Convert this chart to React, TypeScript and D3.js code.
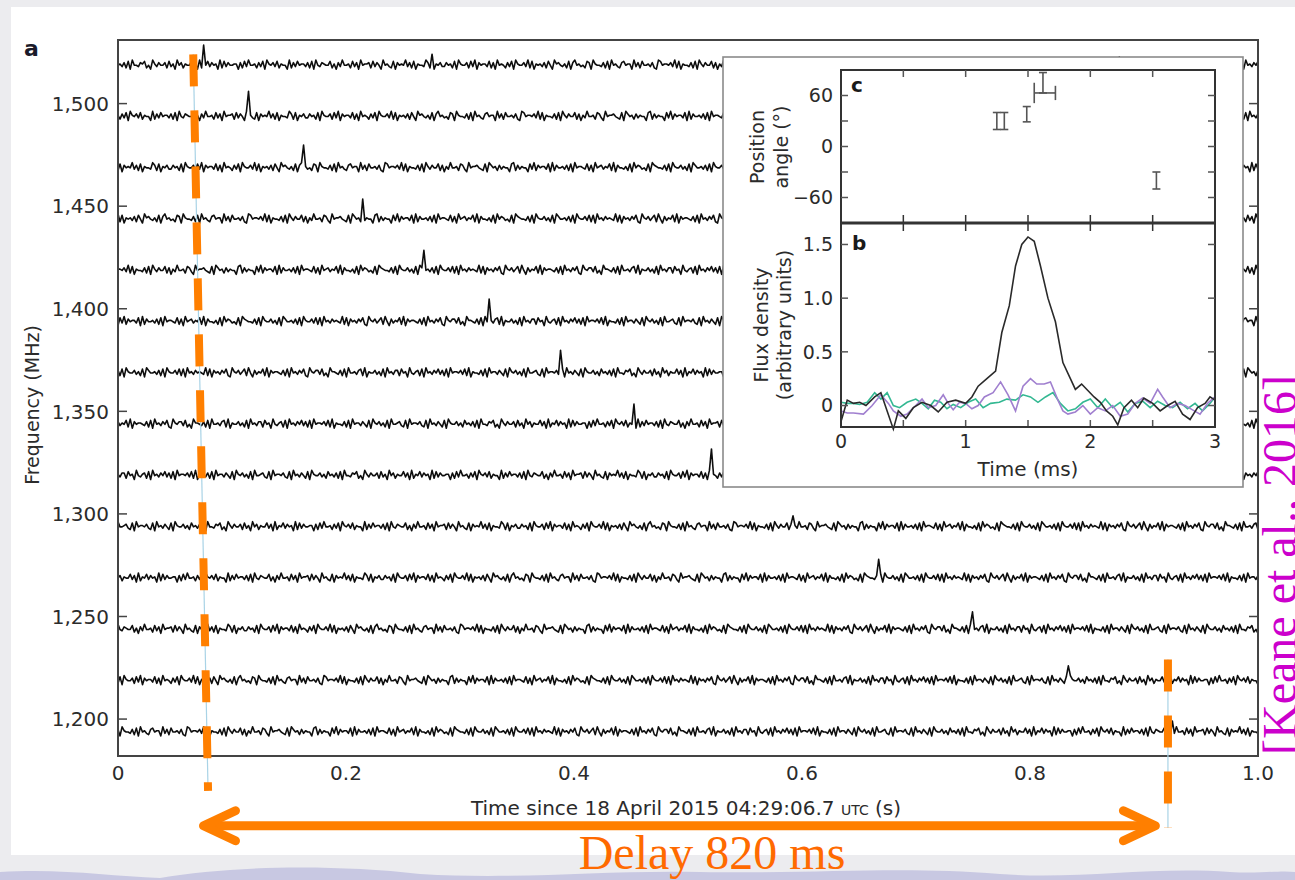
import React from 'react';
import * as d3 from 'd3';

const W = 1295;
const H = 880;

// Centre frequency of each sub-band trace (MHz), top to bottom
const channelFreqs = [1519, 1494, 1469, 1444, 1419, 1394, 1369, 1344, 1319, 1294, 1269, 1244, 1219, 1194];
// Burst arrival time in each sub-band (s)
const pulseTimes = [0.0746, 0.114, 0.162, 0.215, 0.269, 0.326, 0.389, 0.453, 0.521, 0.592, 0.668, 0.749, 0.834, 0.925];
// Burst amplitude in each sub-band (arbitrary units)
const pulseHeights = [15, 19, 17, 15, 15, 17, 17, 15, 20, 8, 14, 13, 11, 8];
// Isolated noise spikes: [channel index, time (s), amplitude]
const glitches: [number, number, number][] = [
  [0, 0.275, 8],
  [0, 0.878, 6],
];
const freqTicks = [1200, 1250, 1300, 1350, 1400, 1450, 1500];
const timeTicks = [0, 0.2, 0.4, 0.6, 0.8, 1.0];

// Recorded baseline noise levels (digits 1-8, centred on 4.5)
const NOISE =
  '45362718443657241853644627351846254473618254736451827364455162738445263718546372' +
  '54418263745536271843654472516384452736184556273641845327164548362715443862715463' +
  '36452718544627381645537261845426371854463827154536274185643527168453427618544362' +
  '71845326745518362744536218745546382715443627185364472615384452763184556432718645' +
  '26354417826354417382645537182644536271845543726184563547281644352718465342718654' +
  '43627185446352718644536271854463727184536454382716453647218546357284163547281645' +
  '54362718453647218546637241855436271844536728154463527184536627451843562718453647' +
  '36271845546372815443627184553642718546352718445632718455463271845364271854463527';

// Inset c: polarisation position angle [time (ms), PA (deg), PA error (deg)]
const paPoints: [number, number, number][] = [
  [1.25, 30, 10],
  [1.31, 30, 10],
  [1.49, 38, 9],
  [1.62, 75, 12],
  [2.53, -40, 10],
];
// Inset c: point with a time error bar [time, PA, time error, cap half-height (deg)]
const paTimeBars: [number, number, number, number][] = [[1.635, 63, 0.085, 12]];

// Inset b: pulse profiles [time (ms), flux]
const fluxTotal: [number, number][] = [
  [0.0, -0.15], [0.05, 0.05], [0.1, 0.02], [0.15, 0.03], [0.2, 0.0], [0.27, 0.08], [0.32, 0.12],
  [0.37, -0.05], [0.42, -0.22], [0.46, -0.05], [0.52, -0.12], [0.58, -0.02], [0.65, 0.03],
  [0.72, 0.0], [0.78, -0.06], [0.85, 0.03], [0.92, 0.05], [1.0, 0.02], [1.05, 0.08], [1.1, 0.18],
  [1.17, 0.25], [1.24, 0.32], [1.29, 0.68], [1.35, 0.93], [1.4, 1.3], [1.45, 1.5], [1.5, 1.57],
  [1.55, 1.53], [1.6, 1.3], [1.66, 1.0], [1.72, 0.78], [1.78, 0.4], [1.84, 0.25], [1.88, 0.15],
  [1.93, 0.2], [1.98, 0.14], [2.03, 0.08], [2.08, 0.03], [2.13, -0.05], [2.18, -0.1], [2.22, -0.18],
  [2.27, -0.02], [2.33, 0.05], [2.38, -0.02], [2.43, 0.07], [2.5, 0.02], [2.56, -0.05], [2.62, 0.0],
  [2.68, 0.04], [2.74, -0.08], [2.8, -0.13], [2.86, -0.02], [2.92, 0.02], [2.96, 0.08], [3.0, 0.05],
];
const fluxCircular: [number, number][] = [
  [0.0, -0.05], [0.05, -0.07], [0.1, -0.07], [0.18, -0.08], [0.25, 0.0], [0.32, 0.1], [0.38, 0.02],
  [0.42, -0.05], [0.48, -0.1], [0.53, -0.08], [0.6, 0.0], [0.65, 0.06], [0.7, -0.02], [0.76, 0.0],
  [0.82, 0.1], [0.86, 0.02], [0.9, -0.04], [0.95, 0.03], [1.0, 0.02], [1.05, -0.03], [1.1, 0.0],
  [1.15, 0.08], [1.22, 0.12], [1.28, 0.22], [1.34, 0.1], [1.4, -0.05], [1.46, 0.18], [1.52, 0.25],
  [1.57, 0.2], [1.63, 0.2], [1.68, 0.22], [1.74, 0.05], [1.78, -0.05], [1.82, -0.08], [1.88, -0.06],
  [1.94, 0.0], [2.0, -0.08], [2.06, -0.02], [2.12, -0.05], [2.18, 0.0], [2.24, -0.1], [2.3, -0.08],
  [2.36, 0.02], [2.42, 0.07], [2.48, 0.02], [2.54, 0.15], [2.58, 0.08], [2.64, -0.02], [2.7, 0.02],
  [2.76, 0.0], [2.82, -0.04], [2.88, -0.08], [2.94, 0.02], [3.0, 0.08],
];
const fluxLinear: [number, number][] = [
  [0.0, 0.03], [0.05, 0.02], [0.1, 0.02], [0.15, 0.01], [0.21, 0.03], [0.27, 0.12], [0.32, 0.06],
  [0.37, 0.12], [0.42, 0.0], [0.47, -0.02], [0.53, 0.03], [0.6, 0.06], [0.65, 0.02], [0.7, -0.03],
  [0.75, 0.05], [0.8, 0.03], [0.85, -0.03], [0.9, 0.01], [0.96, -0.02], [1.02, 0.03], [1.08, 0.06],
  [1.14, -0.02], [1.2, 0.02], [1.27, 0.03], [1.33, 0.06], [1.4, 0.05], [1.46, 0.1], [1.52, 0.08],
  [1.58, 0.03], [1.64, 0.08], [1.7, 0.12], [1.76, 0.02], [1.82, -0.05], [1.88, -0.03], [1.94, 0.03],
  [2.0, 0.06], [2.06, -0.02], [2.12, 0.06], [2.18, -0.02], [2.24, 0.03], [2.3, -0.06], [2.36, 0.02],
  [2.42, 0.04], [2.48, -0.02], [2.54, 0.04], [2.6, 0.0], [2.66, -0.02], [2.72, 0.03], [2.78, -0.03],
  [2.84, 0.02], [2.9, -0.05], [2.96, 0.02], [3.0, 0.08],
];
const paTicks = [-60, -30, 0, 30, 60];
const paLabels = [-60, 0, 60];
const fluxTicks = [0, 0.5, 1.0, 1.5];
const msTicks = [0, 1, 2, 3];
const msMinor = [0.5, 1, 1.5, 2, 2.5];

// Dispersion-delay annotation: [time (s), frequency (MHz)] end points of the guide lines
const guideLow: [number, number][] = [[0.066, 1524], [0.079, 1165]];
const guideHigh: [number, number][] = [[0.921, 1229], [0.921, 1147]];
const arrowSpan = [0.075, 0.91];
const arrowFreq = 1148;

const SANS = '"DejaVu Sans", "Liberation Sans", Arial, sans-serif';
const SERIF = '"Liberation Serif", "Times New Roman", serif';
const ORANGE = '#ff7f00';
const INK = '#2b2b2b';

export default function App() {
  const x = d3.scaleLinear().domain([0, 1]).range([118, 1258]);
  const y = d3.scaleLinear().domain([1182, 1531]).range([756, 40]);
  const amp = d3.scaleLinear().domain([0, 1]).range([0, -1.3]);

  const N = 560;
  const noiseVals = NOISE.split('').map((c) => +c - 4.5);
  const traceLine = d3.line<[number, number]>();
  const traces = channelFreqs.map((f, i) => {
    const vals = d3.range(N).map((j) => noiseVals[(i * 67 + j) % noiseVals.length]);
    vals[Math.round(pulseTimes[i] * (N - 1))] = pulseHeights[i];
    glitches
      .filter((g) => g[0] === i)
      .forEach((g) => {
        vals[Math.round(g[1] * (N - 1))] = g[2];
      });
    const pts = vals.map((v, j) => [x(j / (N - 1)), y(f) + amp(v)] as [number, number]);
    return traceLine(pts) as string;
  });

  // inset scales
  const tx = d3.scaleLinear().domain([0, 3]).range([841, 1215]);
  const pay = d3.scaleLinear().domain([-90, 90]).range([223, 70]);
  const fy = d3.scaleLinear().domain([-0.2, 1.7]).range([427, 223]);
  const fluxLine = d3
    .line<[number, number]>()
    .x((d) => tx(d[0]))
    .y((d) => fy(d[1]));

  const gl = guideLow.map((d) => [x(d[0]), y(d[1])]);
  const gh = guideHigh.map((d) => [x(d[0]), y(d[1])]);
  const ay = y(arrowFreq);
  const ax0 = x(arrowSpan[0]);
  const ax1 = x(arrowSpan[1]);

  return (
    <svg
      width={W}
      height={H}
      style={{ position: 'absolute', left: 0, top: 0, display: 'block' }}
      xmlns="http://www.w3.org/2000/svg"
    >
      <defs>
        <filter id="soft" x="-10%" y="-10%" width="120%" height="120%">
          <feGaussianBlur stdDeviation="0.45" />
        </filter>
      </defs>
      {/* backdrop */}
      <rect x={0} y={0} width={W} height={H} fill="#ececef" />
      <path
        d="M0,872 C60,868 110,876 160,878 C230,866 330,864 420,874 C520,880 600,870 700,872 C820,874 900,866 1000,874 C1080,880 1150,866 1230,872 C1260,874 1280,870 1295,872 L1295,880 L0,880 Z"
        fill="#c8c8e2"
      />
      <rect x={11} y={7} width={W - 11} height={848} fill="#ffffff" />

      {/* panel a: traces */}
      <g filter="url(#soft)">
        {traces.map((d, i) => (
          <path key={i} d={d} fill="none" stroke="#111" strokeWidth={1.6} strokeLinejoin="round" />
        ))}
      </g>

      {/* panel a frame and ticks */}
      <rect x={118} y={40} width={1140} height={716} fill="none" stroke="#444" strokeWidth={2} />
      {freqTicks.map((f) => (
        <g key={f}>
          <line x1={118} x2={127} y1={y(f)} y2={y(f)} stroke="#444" strokeWidth={1.5} />
          <line x1={1249} x2={1258} y1={y(f)} y2={y(f)} stroke="#444" strokeWidth={1.5} />
          <text
            x={109}
            y={y(f)}
            dy="0.36em"
            textAnchor="end"
            fontFamily={SANS}
            fontSize={20}
            fill={INK}
          >
            {d3.format(',')(f)}
          </text>
        </g>
      ))}
      {timeTicks.map((t) => (
        <text
          key={t}
          x={x(t)}
          y={780}
          textAnchor="middle"
          fontFamily={SANS}
          fontSize={20}
          fill={INK}
        >
          {t === 0 ? '0' : t.toFixed(1)}
        </text>
      ))}
      <text x={686} y={815} textAnchor="middle" fontFamily={SANS} fontSize={20} fill={INK}>
        Time since 18 April 2015 04:29:06.7 <tspan fontSize={14}>UTC</tspan> (s)
      </text>
      <text
        transform="translate(39,405) rotate(-90)"
        textAnchor="middle"
        fontFamily={SANS}
        fontSize={19}
        fill={INK}
      >
        Frequency (MHz)
      </text>
      <text x={24} y={56} fontFamily={SANS} fontSize={22} fontWeight="bold" fill="#1a1a2a">
        a
      </text>

      {/* inset box */}
      <rect x={723} y={57} width={520} height={430} fill="#ffffff" stroke="#8a8a8a" strokeWidth={1.6} />

      {/* inset c: position angle */}
      <rect x={841} y={70} width={374} height={153} fill="none" stroke="#333" strokeWidth={2} />
      {paTicks.map((p) => (
        <g key={p}>
          <line x1={841} x2={848} y1={pay(p)} y2={pay(p)} stroke="#555" strokeWidth={1.5} />
          <line x1={1208} x2={1215} y1={pay(p)} y2={pay(p)} stroke="#555" strokeWidth={1.5} />
        </g>
      ))}
      {msMinor.map((t) => (
        <g key={t}>
          <line x1={tx(t)} x2={tx(t)} y1={70} y2={77} stroke="#555" strokeWidth={1.5} />
          <line x1={tx(t)} x2={tx(t)} y1={215} y2={231} stroke="#333" strokeWidth={1.5} />
          <line x1={tx(t)} x2={tx(t)} y1={427} y2={420} stroke="#555" strokeWidth={1.5} />
        </g>
      ))}
      {paLabels.map((p) => (
        <text
          key={p}
          x={833}
          y={pay(p)}
          dy="0.36em"
          textAnchor="end"
          fontFamily={SANS}
          fontSize={19}
          fill={INK}
        >
          {p < 0 ? `\u2212${-p}` : p}
        </text>
      ))}
      <g stroke="#555" strokeWidth={1.6} fill="none">
        {paPoints.map(([t, p, e], i) => (
          <g key={i}>
            <line x1={tx(t)} x2={tx(t)} y1={pay(p - e)} y2={pay(p + e)} />
            <line x1={tx(t) - 4} x2={tx(t) + 4} y1={pay(p - e)} y2={pay(p - e)} />
            <line x1={tx(t) - 4} x2={tx(t) + 4} y1={pay(p + e)} y2={pay(p + e)} />
          </g>
        ))}
        {paTimeBars.map(([t, p, e, c], i) => (
          <g key={i}>
            <line x1={tx(t - e)} x2={tx(t + e)} y1={pay(p)} y2={pay(p)} />
            <line x1={tx(t - e)} x2={tx(t - e)} y1={pay(p - c)} y2={pay(p + c)} />
            <line x1={tx(t + e)} x2={tx(t + e)} y1={pay(p - c * 0.7)} y2={pay(p + c * 0.7)} />
          </g>
        ))}
      </g>
      <text x={851} y={92} fontFamily={SANS} fontSize={20} fontWeight="bold" fill="#1a1a1a">
        c
      </text>
      <text
        transform="translate(757,147) rotate(-90)"
        textAnchor="middle"
        dy="0.35em"
        fontFamily={SANS}
        fontSize={19}
        fill={INK}
      >
        Position
      </text>
      <text
        transform="translate(781,147) rotate(-90)"
        textAnchor="middle"
        dy="0.35em"
        fontFamily={SANS}
        fontSize={19}
        fill={INK}
      >
        angle (°)
      </text>

      {/* inset b: flux density */}
      <g>
        <path d={fluxLine(fluxLinear) as string} fill="none" stroke="#33b892" strokeWidth={1.6} />
        <path d={fluxLine(fluxCircular) as string} fill="none" stroke="#a07fcf" strokeWidth={1.6} />
        <path d={fluxLine(fluxTotal) as string} fill="none" stroke="#2a2a2a" strokeWidth={1.6} />
      </g>
      <rect x={841} y={223} width={374} height={204} fill="none" stroke="#333" strokeWidth={2} />
      <line x1={841} x2={1215} y1={223} y2={223} stroke="#333" strokeWidth={3} />
      {fluxTicks.map((v) => (
        <g key={v}>
          <line x1={841} x2={848} y1={fy(v)} y2={fy(v)} stroke="#555" strokeWidth={1.5} />
          <line x1={1208} x2={1215} y1={fy(v)} y2={fy(v)} stroke="#555" strokeWidth={1.5} />
          <text
            x={833}
            y={fy(v)}
            dy="0.36em"
            textAnchor="end"
            fontFamily={SANS}
            fontSize={19}
            fill={INK}
          >
            {v === 0 ? '0' : v.toFixed(1)}
          </text>
        </g>
      ))}
      {msTicks.map((t) => (
        <text
          key={t}
          x={tx(t)}
          y={448}
          textAnchor="middle"
          fontFamily={SANS}
          fontSize={19}
          fill={INK}
        >
          {t}
        </text>
      ))}
      <text x={1028} y={476} textAnchor="middle" fontFamily={SANS} fontSize={20} fill={INK}>
        Time (ms)
      </text>
      <text x={852} y={250} fontFamily={SANS} fontSize={20} fontWeight="bold" fill="#1a1a1a">
        b
      </text>
      <text
        transform="translate(761,325) rotate(-90)"
        textAnchor="middle"
        dy="0.35em"
        fontFamily={SANS}
        fontSize={19}
        fill={INK}
      >
        Flux density
      </text>
      <text
        transform="translate(784,325) rotate(-90)"
        textAnchor="middle"
        dy="0.35em"
        fontFamily={SANS}
        fontSize={19}
        fill={INK}
      >
        (arbitrary units)
      </text>

      {/* dispersion sweep guides */}
      <line x1={gl[0][0]} y1={gl[0][1]} x2={gl[1][0]} y2={gl[1][1]} stroke="#a9d3e6" strokeWidth={1.2} />
      <line
        x1={gl[0][0]}
        y1={gl[0][1]}
        x2={gl[1][0]}
        y2={gl[1][1]}
        stroke={ORANGE}
        strokeWidth={8}
        strokeDasharray="32 24"
      />
      <line x1={gh[0][0]} y1={gh[0][1]} x2={gh[1][0]} y2={gh[1][1]} stroke="#a9d3e6" strokeWidth={1.2} />
      <line
        x1={gh[0][0]}
        y1={gh[0][1]}
        x2={gh[1][0]}
        y2={gh[1][1]}
        stroke={ORANGE}
        strokeWidth={8}
        strokeDasharray="32 24"
      />
      <g stroke={ORANGE} strokeWidth={9} fill="none" strokeLinecap="round" strokeLinejoin="round">
        <line x1={ax0 + 4} x2={ax1 - 4} y1={ay} y2={ay} />
        <polyline points={`${ax0 + 32},${ay - 15} ${ax0},${ay} ${ax0 + 32},${ay + 15}`} />
        <polyline points={`${ax1 - 32},${ay - 15} ${ax1},${ay} ${ax1 - 32},${ay + 15}`} />
      </g>
      <text x={712} y={869} textAnchor="middle" fontFamily={SERIF} fontSize={48} fill="#ff6a00">
        Delay 820 ms
      </text>

      {/* citation */}
      <text
        transform="translate(1296,565) rotate(-90)"
        textAnchor="middle"
        fontFamily={SERIF}
        fontSize={48}
        fill="#cc00cc"
      >
        [Keane et al., 2016]
      </text>
    </svg>
  );
}
